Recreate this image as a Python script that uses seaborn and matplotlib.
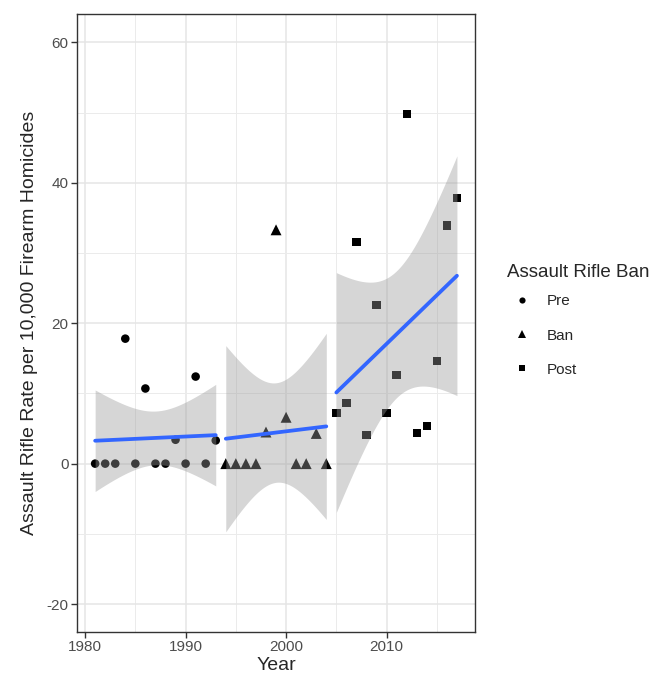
import numpy as np
import pandas as pd
import seaborn as sns
import matplotlib.pyplot as plt

# values
years_pre = [1981, 1982, 1983, 1984, 1985, 1986, 1987, 1988, 1989, 1990, 1991, 1992, 1993]
rate_pre = [0, 0, 0, 17.8, 0, 10.7, 0, 0, 3.4, 0, 12.4, 0, 3.3]

years_ban = [1994, 1995, 1996, 1997, 1998, 1999, 2000, 2001, 2002, 2003, 2004]
rate_ban = [0, 0, 0, 0, 4.5, 33.3, 6.6, 0, 0, 4.3, 0]

years_post = [2005, 2006, 2007, 2008, 2009, 2010, 2011, 2012, 2013, 2014, 2015, 2016, 2017]
rate_post = [7.2, 8.6, 31.6, 4.1, 22.6, 7.2, 12.6, 49.8, 4.4, 5.4, 14.6, 33.9, 37.8]

periods = ["Pre", "Ban", "Post"]

df = pd.concat([
    pd.DataFrame({"Year": years_pre, "Rate": rate_pre, "Period": "Pre"}),
    pd.DataFrame({"Year": years_ban, "Rate": rate_ban, "Period": "Ban"}),
    pd.DataFrame({"Year": years_post, "Rate": rate_post, "Period": "Post"}),
], ignore_index=True)

# two-sided 95% t quantiles by residual df
t975 = {9: 2.262, 11: 2.201}

sns.set_style("white")
plt.rcParams["font.family"] = ["Liberation Sans", "DejaVu Sans"]
plt.rcParams["axes.unicode_minus"] = False

fig = plt.figure(figsize=(6.7, 6.79), dpi=100)
ax = fig.add_axes([0.115, 0.069, 0.594, 0.910])

sns.scatterplot(data=df, x="Year", y="Rate", style="Period", style_order=periods,
                size="Period", size_order=periods,
                sizes={"Pre": 38, "Ban": 62, "Post": 36},
                markers={"Pre": "o", "Ban": "^", "Post": "s"}, color="black",
                linewidth=0, ax=ax, zorder=2)

# linear fit with analytic confidence band, like geom_smooth(method="lm")
for p in periods:
    sub = df[df["Period"] == p]
    x = sub["Year"].to_numpy(float)
    y = sub["Rate"].to_numpy(float)
    n = len(x)
    b1, b0 = np.polyfit(x, y, 1)
    resid = y - (b0 + b1 * x)
    s = np.sqrt(np.sum(resid ** 2) / (n - 2))
    xs = np.linspace(x.min(), x.max(), 80)
    fit = b0 + b1 * xs
    se = s * np.sqrt(1 / n + (xs - x.mean()) ** 2 / np.sum((x - x.mean()) ** 2))
    t = t975[n - 2]
    ax.fill_between(xs, fit - t * se, fit + t * se, color="#999999", alpha=0.4,
                    linewidth=0, zorder=3)
    sns.lineplot(x=xs, y=fit, color="#3366FF", linewidth=2.7, ax=ax, zorder=4,
                 legend=False)

ax.set_xlim(1979.2, 2018.8)
ax.set_ylim(-24, 64)
ax.set_xticks([1980, 1990, 2000, 2010])
ax.set_xticks([1985, 1995, 2005, 2015], minor=True)
ax.set_yticks([-20, 0, 20, 40, 60])
ax.set_yticks([-10, 10, 30, 50], minor=True)
ax.grid(which="major", color="#E5E5E5", linewidth=1.1, zorder=0)
ax.grid(which="minor", color="#EBEBEB", linewidth=0.7, zorder=0)
ax.set_axisbelow(True)

for sp in ax.spines.values():
    sp.set_color("#333333")
    sp.set_linewidth(1.0)

ax.tick_params(which="major", length=4, width=1.0, color="#333333",
               labelsize=11, labelcolor="#4D4D4D", pad=2, bottom=True, left=True)
ax.tick_params(which="minor", length=0)

ax.set_xlabel("Year", fontsize=14, labelpad=2)
ax.set_ylabel("Assault Rifle Rate per 10,000 Firearm Homicides", fontsize=14, labelpad=6)

handles, labels = ax.get_legend_handles_labels()
leg = ax.legend(handles, labels, title="Assault Rifle Ban", frameon=False,
                loc="center left", bbox_to_anchor=(1.065, 0.505),
                fontsize=11, title_fontsize=13.5, markerscale=0.72,
                handletextpad=0.6, labelspacing=1.32, borderaxespad=0)
leg._legend_box.align = "left"
leg._legend_box.sep = 10

fig.savefig("out.png", dpi=100)
